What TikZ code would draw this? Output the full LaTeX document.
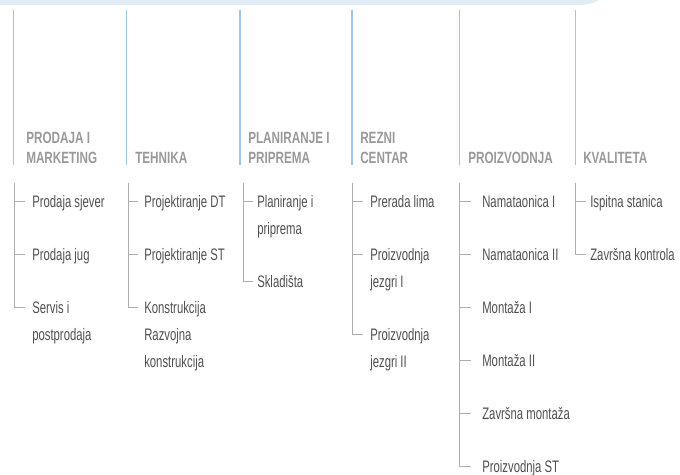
\documentclass[tikz,border=0pt]{standalone}
\usepackage{fontspec}
\setmainfont{Liberation Sans}[FakeStretch=0.68]
\newfontfamily\hdrfont{Liberation Sans}[FakeStretch=0.72]
\usetikzlibrary{calc}
\definecolor{bandc}{HTML}{E2ECF7}
\definecolor{bluel}{HTML}{9DC3E8}
\definecolor{itemc}{HTML}{505050}
\definecolor{hdrc}{HTML}{999999}
\definecolor{treec}{HTML}{ADADAD}
\tikzset{
  hdr/.style={anchor=base west, inner sep=0pt, align=left, text=hdrc,
    font=\hdrfont\bfseries\fontsize{12.2pt}{15pt}\selectfont},
  item/.style={anchor=base west, inner sep=0pt, align=left, text=itemc,
    font=\fontsize{12.5pt}{20.25pt}\selectfont},
  vline/.style={draw=bluel, line width=1.1pt},
  tree/.style={draw=treec, line width=0.75pt},
}
\begin{document}
\begin{tikzpicture}[x=0.75pt,y=-0.75pt]
\useasboundingbox (0,0) rectangle (680,474);
% top band
\fill[bandc] (0,0) -- (599,0) .. controls (592,4) and (586,5) .. (576,5) -- (0,5) -- cycle;
% blue header lines
\foreach \n/\x in {b1/13.5,b2/126.5,b3/240,b4/352,b5/459.5,b6/575.5}{
  \coordinate (\n t) at (\x,10);
  \coordinate (\n b) at (\x,165);
  \draw[vline] (\n t) -- (\n b);
}
% headers (base = baseline of last line)
\node[hdr] (h1) at (26,163) {PRODAJA I\\MARKETING};
\node[hdr] (h2) at (135,163) {TEHNIKA};
\node[hdr] (h3) at (248,163) {PLANIRANJE I\\PRIPREMA};
\node[hdr] (h4) at (360,163) {REZNI\\CENTAR};
\node[hdr] (h5) at (468,163) {PROIZVODNJA};
\node[hdr] (h6) at (583,163) {KVALITETA};
% items (base = baseline of last line)
\node[item] (a11) at (32,207) {Prodaja sjever};
\node[item] (a12) at (32,260) {Prodaja jug};
\node[item] (a13) at (32,340) {Servis i\\postprodaja};
\node[item] (a21) at (144,207) {Projektiranje DT};
\node[item] (a22) at (144,260) {Projektiranje ST};
\node[item] (a23) at (144,367) {Konstrukcija\\Razvojna\\konstrukcija};
\node[item] (a31) at (257,234) {Planiranje i\\priprema};
\node[item] (a32) at (257,287) {Skladišta};
\node[item] (a41) at (370,207) {Prerada lima};
\node[item] (a42) at (370,287) {Proizvodnja\\jezgri I};
\node[item] (a43) at (370,367) {Proizvodnja\\jezgri II};
\node[item] (a51) at (482,207) {Namataonica I};
\node[item] (a52) at (482,260) {Namataonica II};
\node[item] (a53) at (482,313) {Montaža I};
\node[item] (a54) at (482,366) {Montaža II};
\node[item] (a55) at (482,419) {Završna montaža};
\node[item] (a56) at (482,472) {Proizvodnja ST};
\node[item] (a61) at (590,207) {Ispitna stanica};
\node[item] (a62) at (590,260) {Završna kontrola};
% tree tops
\coordinate (c1) at (14,183);
\coordinate (c2) at (128,183);
\coordinate (c3) at (243,183);
\coordinate (c4) at (352,183);
\coordinate (c5) at (459.5,183);
\coordinate (c6) at (575.5,183);
% ticks: column / gap / item / extra lines
\foreach \c/\g/\k/\m in {1/7/11/0,1/7/12/0,1/7/13/1,
  2/6/21/0,2/6/22/0,2/6/23/2,
  3/4/31/1,3/4/32/0,
  4/7/41/0,4/7/42/1,4/7/43/1,
  5/11/51/0,5/11/52/0,5/11/53/0,5/11/54/0,5/11/55/0,5/11/56/0,
  6/4/61/0,6/4/62/0}{
  \coordinate (k\k) at ($(a\k.base west)+(-\g,{-6-27*\m})$);
  \draw[tree] (c\c |- k\k) -- (k\k);
}
\draw[tree] (c1) |- (k13);
\draw[tree] (c2) |- (k23);
\draw[tree] (c3) |- (k32);
\draw[tree] (c4) |- (k43);
\draw[tree] (c5) |- (k56);
\draw[tree] (c6) |- (k62);
\end{tikzpicture}
\end{document}
